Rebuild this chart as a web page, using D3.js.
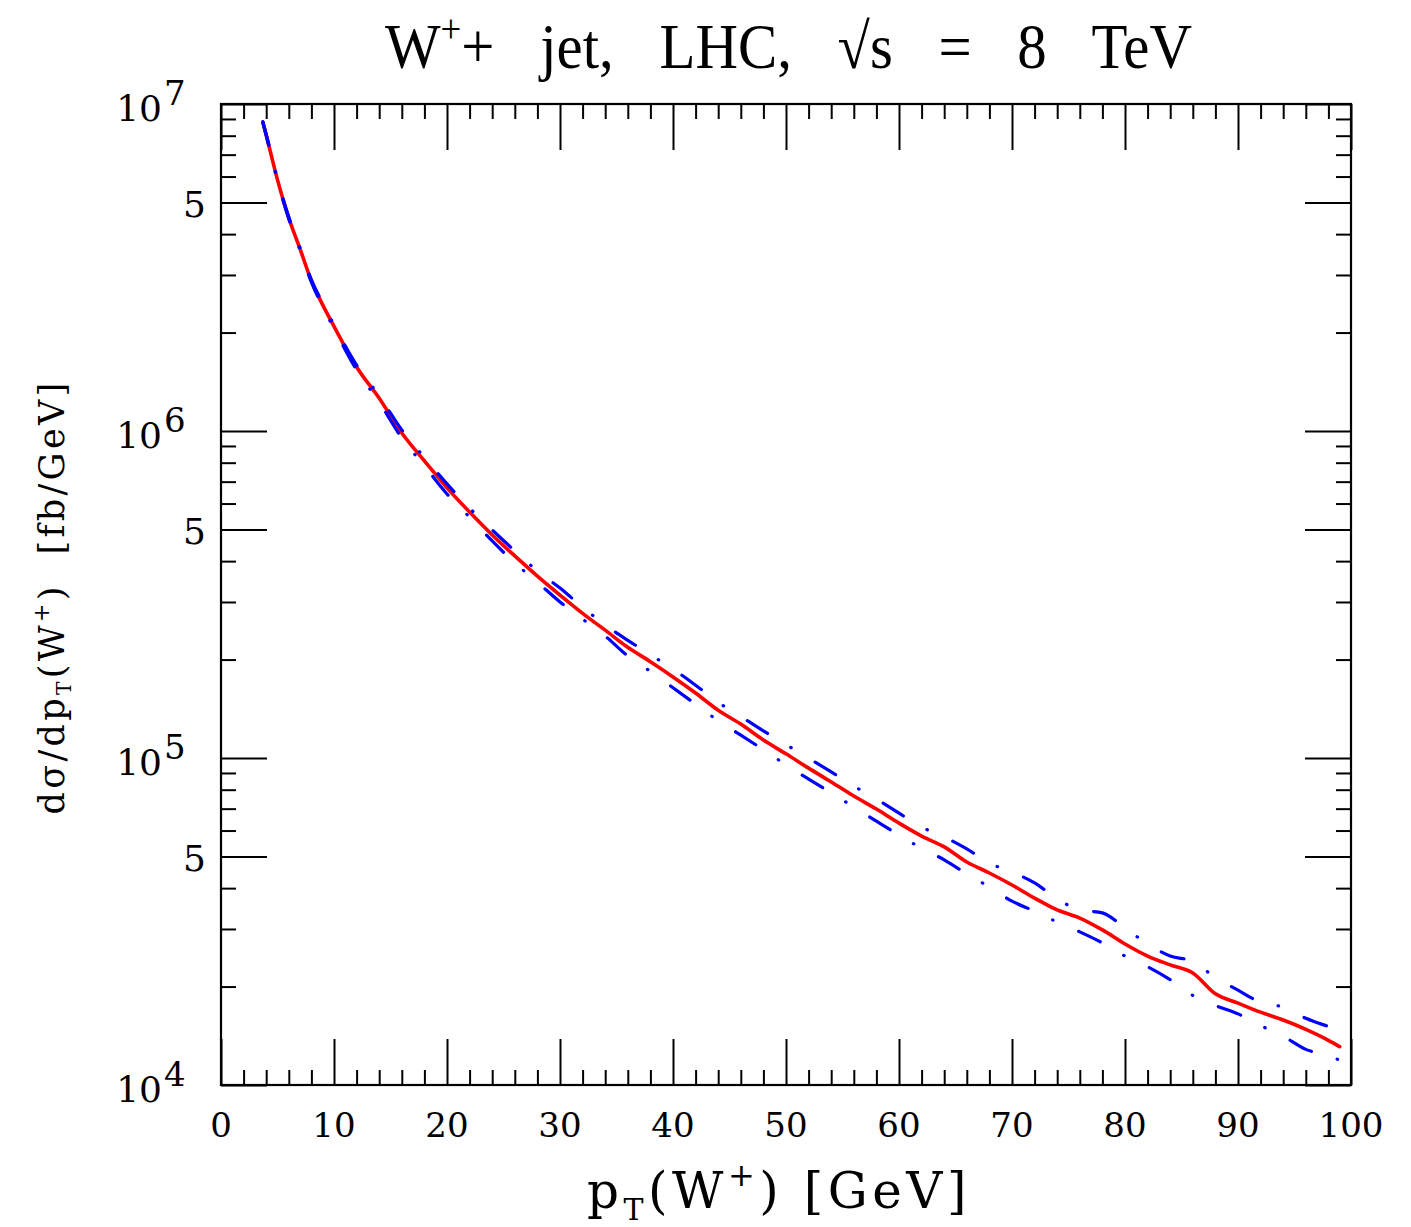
<!DOCTYPE html>
<html><head><meta charset="utf-8">
<script src="https://cdn.jsdelivr.net/npm/d3@7"></script>
<style>body{margin:0;background:#fff}svg{display:block}</style>
</head><body>
<svg id="chart" width="1411" height="1227"></svg>
<script>
// ---- data ----
const ptGeV = [3.7,4,5,6,7,8,9,10,12,14,16,18,20,22,24,26,28,30,32,34,36,38,40,42,44,46,48,50,52,54,56,58,60,62,64,66,68,70,72,74,76,78,80,82,84,86,88,90,92,94,96,98,99];
const central = [8.81e6,8.04e6,5.86e6,4.48e6,3.60e6,2.88e6,2.43e6,2.09e6,1.57e6,1.26e6,9.86e5,8.10e5,6.70e5,5.65e5,4.81e5,4.15e5,3.60e5,3.15e5,2.77e5,2.46e5,2.18e5,1.97e5,1.77e5,1.58e5,1.40e5,1.27e5,1.135e5,1.03e5,9.31e4,8.45e4,7.65e4,6.98e4,6.32e4,5.77e4,5.35e4,4.81e4,4.45e4,4.09e4,3.73e4,3.43e4,3.24e4,2.98e4,2.70e4,2.48e4,2.33e4,2.20e4,1.90e4,1.78e4,1.67e4,1.58e4,1.48e4,1.37e4,1.31e4];
const upper = [8.81e6,8.07e6,5.90e6,4.51e6,3.63e6,2.90e6,2.46e6,2.11e6,1.59e6,1.28e6,1.007e6,8.30e5,6.89e5,5.81e5,4.98e5,4.30e5,3.73e5,3.31e5,2.89e5,2.55e5,2.29e5,2.07e5,1.87e5,1.67e5,1.48e5,1.34e5,1.21e5,1.10e5,9.99e4,9.07e4,8.21e4,7.49e4,6.78e4,6.15e4,5.74e4,5.27e4,4.77e4,4.48e4,4.15e4,3.71e4,3.43e4,3.36e4,3.02e4,2.70e4,2.48e4,2.39e4,2.13e4,1.95e4,1.79e4,1.73e4,1.60e4,1.51e4,1.47e4];
const lower = [8.81e6,8.01e6,5.82e6,4.45e6,3.57e6,2.85e6,2.40e6,2.06e6,1.537e6,1.225e6,9.52e5,7.82e5,6.42e5,5.45e5,4.61e5,3.95e5,3.45e5,3.00e5,2.66e5,2.36e5,2.05e5,1.84e5,1.64e5,1.46e5,1.30e5,1.175e5,1.06e5,9.53e4,8.62e4,7.82e4,7.08e4,6.41e4,5.81e4,5.30e4,4.88e4,4.42e4,4.03e4,3.65e4,3.40e4,3.15e4,2.94e4,2.72e4,2.48e4,2.30e4,2.10e4,1.88e4,1.75e4,1.65e4,1.52e4,1.41e4,1.285e4,1.23e4,1.19e4];

const xMajorTicks = [0,10,20,30,40,50,60,70,80,90,100];
const xMinorTicks = [2,4,6,8,12,14,16,18,22,24,26,28,32,34,36,38,42,44,46,48,52,54,56,58,62,64,66,68,72,74,76,78,82,84,86,88,92,94,96,98];
const yDecadeExp = [4,5,6,7];
const yFiveTicks = [5e4,5e5,5e6];
const yMinorTicks = [2e4,3e4,4e4,6e4,7e4,8e4,9e4,2e5,3e5,4e5,6e5,7e5,8e5,9e5,2e6,3e6,4e6,6e6,7e6,8e6,9e6];

const titleText = "+ jet, LHC, \u221As = 8 TeV";

// ---- layout ----
const L = 221, R = 1351, T = 104, B = 1085;
const MAJ = 46, MIN = 15;
const svg = d3.select("#chart");
const x = d3.scaleLinear().domain([0,100]).range([L,R]);
const y = d3.scaleLog().domain([1e4,1e7]).range([B,T]);
const serif = "'DejaVu Serif', serif";

function ax(gen, tr, vals, size){
  const g = svg.append("g").attr("transform", tr)
    .call(gen.tickValues(vals).tickSize(size).tickFormat(""));
  g.select(".domain").remove();
  g.selectAll(".tick line").attr("stroke","#000").attr("stroke-width",2);
}
const yMajorVals = yDecadeExp.map(e=>Math.pow(10,e)).concat(yFiveTicks);
ax(d3.axisBottom(x), `translate(0,${B})`, xMajorTicks, -MAJ);
ax(d3.axisBottom(x), `translate(0,${B})`, xMinorTicks, -MIN);
ax(d3.axisTop(x), `translate(0,${T})`, xMajorTicks, -MAJ);
ax(d3.axisTop(x), `translate(0,${T})`, xMinorTicks, -MIN);
ax(d3.axisLeft(y), `translate(${L},0)`, yMajorVals, -MAJ);
ax(d3.axisLeft(y), `translate(${L},0)`, yMinorTicks, -MIN);
ax(d3.axisRight(y), `translate(${R},0)`, yMajorVals, -MAJ);
ax(d3.axisRight(y), `translate(${R},0)`, yMinorTicks, -MIN);

svg.append("rect").attr("x",L).attr("y",T).attr("width",R-L).attr("height",B-T)
  .attr("fill","none").attr("stroke","#000").attr("stroke-width",2.2);

// curves
const line = d3.line().x(d=>x(d[0])).y(d=>y(d[1])).curve(d3.curveMonotoneX);
const zip = arr => ptGeV.map((p,i)=>[p,arr[i]]);
svg.append("path").attr("d", line(zip(central))).attr("fill","none")
  .attr("stroke","#ff0000").attr("stroke-width",3.6).attr("stroke-linejoin","round").attr("stroke-linecap","round");
[upper, lower].forEach(arr=>{
  svg.append("path").attr("d", line(zip(arr))).attr("fill","none")
    .attr("stroke","#0000ff").attr("stroke-width",3.2)
    .attr("stroke-linecap","round").attr("stroke-dasharray","24 27 0.5 28");
});

// x tick labels
svg.append("g").selectAll("text").data(xMajorTicks).join("text")
  .attr("x", d=>x(d)).attr("y", 1137).attr("text-anchor","middle")
  .attr("font-family", serif).attr("font-size", 34).text(d=>d);

// y labels
yDecadeExp.forEach(e=>{
  const yy = y(Math.pow(10,e));
  svg.append("text").attr("x",162).attr("y",yy+17).attr("text-anchor","end")
    .attr("font-family",serif).attr("font-size",36).text("10");
  svg.append("text").attr("x",164).attr("y",yy+1).attr("text-anchor","start")
    .attr("font-family",serif).attr("font-size",34).text(e);
});
yFiveTicks.forEach(v=>{
  svg.append("text").attr("x",206).attr("y",y(v)+15).attr("text-anchor","end")
    .attr("font-family",serif).attr("font-size",36).text("5");
});

// title: condensed serif, wide word gaps
const tt = svg.append("text").attr("font-family","'Liberation Serif', serif").attr("font-size",64);
tt.append("tspan").text("W");
tt.append("tspan").attr("font-size",40).attr("dy",-26).text("+");
tt.append("tspan").attr("dy",26).text(titleText);
{
  const sx = 0.92;
  const w0 = tt.node().getBBox().width;
  const nSpaces = (titleText.match(/ /g)||[]).length;
  tt.attr("word-spacing", Math.max(0,(807/sx - w0)/nSpaces));
  const bb = tt.node().getBBox();
  tt.attr("transform", `translate(385,68) scale(${807/bb.width},1) translate(${-bb.x},0)`);
}

function fit(textSel, target){
  const n = textSel.text().length;
  const w = textSel.node().getComputedTextLength();
  textSel.attr("letter-spacing", (target - w)/n);
  return textSel.node().getComputedTextLength();
}

// x axis title
const xt = svg.append("text").attr("font-family",serif).attr("font-size",50).style("white-space","pre");
xt.append("tspan").text("p");
xt.append("tspan").attr("font-size",30).attr("dy",12).text("T");
xt.append("tspan").attr("dy",-12).text("(W");
xt.append("tspan").attr("font-size",32).attr("dy",-22).text("+");
xt.append("tspan").attr("dy",22).text(") [GeV]");
{
  fit(xt, 384);
  xt.attr("x",587).attr("y",1208);
}

// y axis title
const yg = svg.append("g").attr("transform","translate(64,597) rotate(-90)");
const yt = yg.append("text").attr("font-family",serif).attr("font-size",35).style("white-space","pre");
yt.append("tspan").text("d\u03C3/dp");
yt.append("tspan").attr("font-size",20).attr("dy",7).text("T");
yt.append("tspan").attr("dy",-7).text("(W");
yt.append("tspan").attr("font-size",22).attr("dy",-15).text("+");
yt.append("tspan").attr("dy",15).text(")  [fb/GeV]");
{
  const w = fit(yt, 435);
  yt.attr("x", -w/2).attr("y", 0);
}
</script>
</body></html>
